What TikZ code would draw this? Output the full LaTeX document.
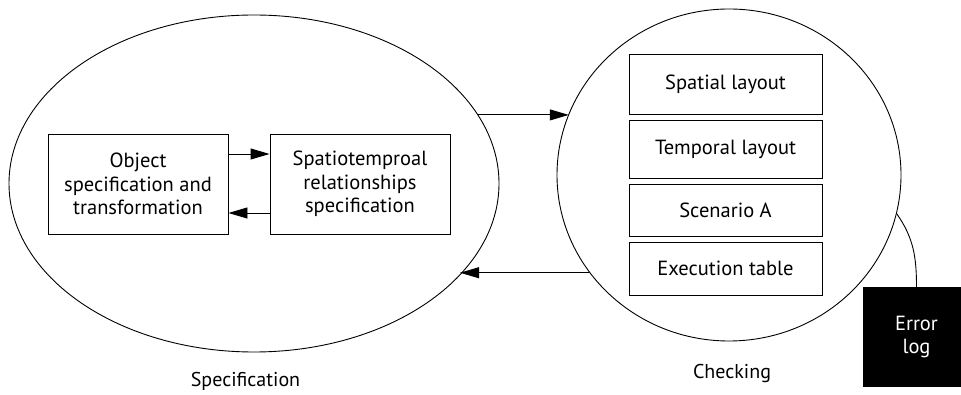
\documentclass[tikz,border=0pt]{standalone}
\usepackage{fontspec}
\setmainfont{PT Sans}
\usetikzlibrary{shapes.geometric,arrows.meta}
\begin{document}
\begin{tikzpicture}[x=1pt,y=-1pt,
  font=\fontsize{20.5}{23.5}\selectfont,
  every node/.style={inner sep=0pt},
  ln/.style={line width=0.9pt},
  arr/.style={ln,-{Triangle[length=19pt,width=11pt]}},
  box/.style={draw,ln,rectangle,align=center},
  lbl/.style={font=\fontsize{20}{23.5}\selectfont}]
\useasboundingbox (0,0) rectangle (961,395);
\node[draw,ln,ellipse,minimum width=490pt,minimum height=337pt] (spec) at (254,183.5) {};
\node[draw,ln,ellipse,minimum width=344pt,minimum height=332pt] (check) at (729,175) {};
\node[box,minimum width=180pt,minimum height=100pt] (obj) at (138,184) {Object\\specification and\\transformation};
\node[box,minimum width=180pt,minimum height=100pt] (rel) at (360,184) {Spatiotemproal\\relationships\\specification};
\node[box,minimum width=193pt,minimum height=60pt] (sp) at (725.5,84) {Spatial layout};
\node[box,minimum width=193pt,minimum height=58pt] (tp) at (725.5,149) {Temporal layout};
\node[box,minimum width=193pt,minimum height=52pt] (sc) at (725.5,210) {Scenario A};
\node[box,minimum width=193pt,minimum height=53pt] (ex) at (725.5,268.5) {Execution table};
\node[fill=black,text=white,align=center,minimum width=107pt,minimum height=100pt] (err) at (916.5,337) {Error\\log};
\node[lbl] (speclbl) at (245.5,381) {Specification};
\node[lbl] (checklbl) at (732,373) {Checking};
\draw[arr] (obj.east |- 0,154) -- (rel.west |- 0,154);
\draw[arr] (rel.west |- 0,213) -- (obj.east |- 0,213);
\draw[arr] (spec.17.2) -- (spec.17.2 -| check.159.3);
\draw[arr] (check.215.1) -- (check.215.1 -| spec.336.8);
\draw[ln] (check.-13.5) to[out=-55,in=90] (err.north);
\end{tikzpicture}
\end{document}
